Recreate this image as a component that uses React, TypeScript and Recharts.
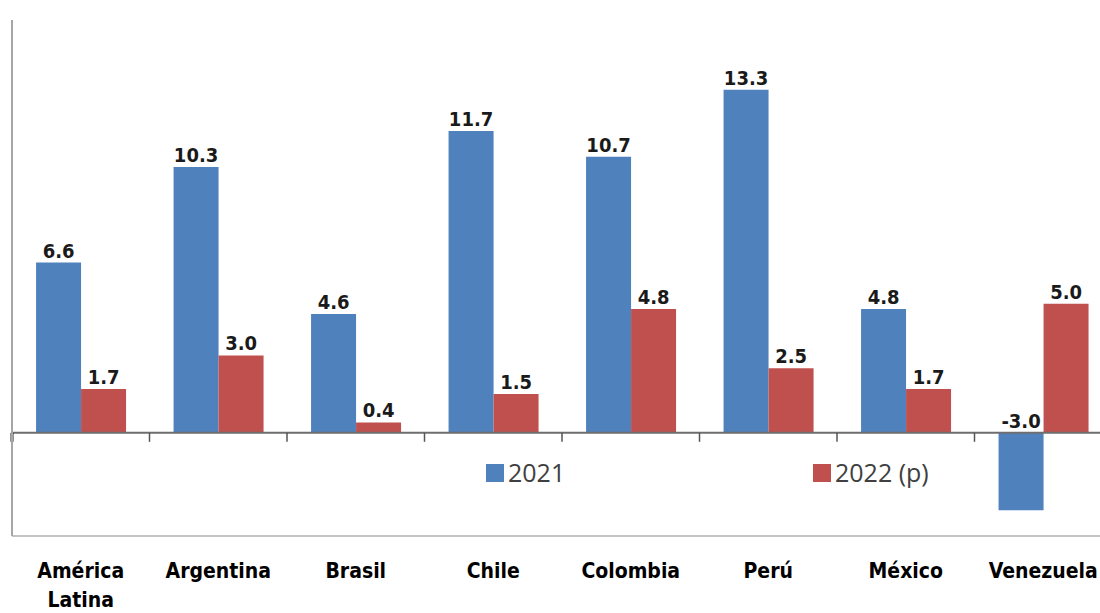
import React from "react";
import { BarChart, Bar, XAxis, YAxis, LabelList, ReferenceLine, Legend } from "recharts";

// Real GDP growth by country, 2021 vs 2022 (p)
const categories = [
  "América Latina",
  "Argentina",
  "Brasil",
  "Chile",
  "Colombia",
  "Perú",
  "México",
  "Venezuela",
];
const values2021 = [6.6, 10.3, 4.6, 11.7, 10.7, 13.3, 4.8, -3.0];
const values2022 = [1.7, 3.0, 0.4, 1.5, 4.8, 2.5, 1.7, 5.0];

const seriesNames = ["2021", "2022 (p)"];
const BLUE = "#4F81BD";
const RED = "#C0504D";

const data = categories.map((name, i) => ({
  name,
  y2021: values2021[i],
  y2022: values2022[i],
}));

// value label always sits above the upper edge of the bar (also for negatives)
const ValueLabel = (props: any) => {
  const { x, y, width, height, value } = props;
  const top = Math.min(y, y + height);
  return (
    <text
      x={x + width / 2}
      y={top - 5}
      textAnchor="middle"
      fontFamily="'DejaVu Sans Condensed', 'DejaVu Sans', sans-serif"
      fontWeight="bold"
      fontSize={20}
      fill="#1a1a1a"
    >
      {Number(value).toFixed(1)}
    </text>
  );
};

// category label, split on spaces onto separate lines
const CategoryTick = (props: any) => {
  const { x, y, payload } = props;
  const lines = String(payload.value).split(" ");
  return (
    <text
      x={x}
      y={y}
      textAnchor="middle"
      fontFamily="'DejaVu Sans Condensed', 'DejaVu Sans', sans-serif"
      fontWeight="bold"
      fontSize={21}
      fill="#000"
    >
      {lines.map((l, i) => (
        <tspan key={i} x={x} dy={i === 0 ? 42 : 29}>
          {l}
        </tspan>
      ))}
    </text>
  );
};

// zero line with tick marks at the category boundaries
const ZeroLine = (props: any) => {
  const { x1, y1, x2 } = props;
  const step = (x2 - x1) / categories.length;
  return (
    <g>
      <line x1={x1} y1={y1} x2={x2} y2={y1} stroke="#6e6e6e" strokeWidth={2} />
      {categories.map((_, i) => (
        <line
          key={i}
          x1={x1 + i * step}
          x2={x1 + i * step}
          y1={y1}
          y2={y1 + 9}
          stroke={i === 0 ? "#222" : "#555"}
          strokeWidth={i === 0 ? 3 : 1.5}
        />
      ))}
    </g>
  );
};

const LegendContent = () => {
  const colors = [BLUE, RED];
  return (
    <div style={{ display: "flex", fontFamily: "'Open Sans', sans-serif", fontSize: 25, color: "#404040" }}>
      {seriesNames.map((n, i) => (
        <div key={n} style={{ display: "flex", alignItems: "center", width: 327, lineHeight: 1 }}>
          <span style={{ display: "inline-block", width: 18, height: 18, background: colors[i], marginRight: 4 }} />
          <span>{n}</span>
        </div>
      ))}
    </div>
  );
};

export default function App() {
  return (
    <div
      style={{
        position: "absolute",
        left: 0,
        top: 0,
        width: 1100,
        height: 613,
        overflow: "hidden",
        background: "#fff",
      }}
    >
      <BarChart
        width={1112}
        height={613}
        data={data}
        margin={{ top: 20, right: 0, left: 2, bottom: 0 }}
        barCategoryGap="17.5%"
        barGap={0}
      >
        <XAxis
          dataKey="name"
          height={77}
          tickLine={false}
          tickSize={0}
          tickMargin={0}
          axisLine={{ stroke: "#c4c4c4", strokeWidth: 2 }}
          tick={<CategoryTick />}
          interval={0}
        />
        <YAxis
          width={10}
          domain={[-4, 16]}
          tick={false}
          tickLine={false}
          axisLine={{ stroke: "#a6a6a6", strokeWidth: 2 }}
        />
        <Legend
          layout="horizontal"
          verticalAlign="middle"
          align="center"
          wrapperStyle={{ left: 486, top: 460, width: 700 }}
          content={<LegendContent />}
        />
        <Bar dataKey="y2021" name={seriesNames[0]} fill={BLUE} isAnimationActive={false}>
          <LabelList dataKey="y2021" content={<ValueLabel />} />
        </Bar>
        <Bar dataKey="y2022" name={seriesNames[1]} fill={RED} isAnimationActive={false}>
          <LabelList dataKey="y2022" content={<ValueLabel />} />
        </Bar>
        <ReferenceLine y={0} shape={<ZeroLine />} />
      </BarChart>
    </div>
  );
}
